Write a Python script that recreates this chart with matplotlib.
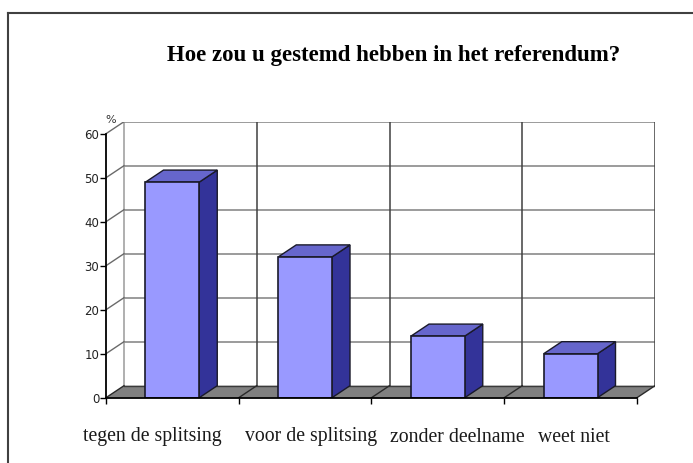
import matplotlib
matplotlib.use("Agg")
import matplotlib.pyplot as plt
from matplotlib.patches import Polygon
from matplotlib.lines import Line2D
from matplotlib.transforms import blended_transform_factory, ScaledTranslation

# ---- data ----
categories = ['tegen de splitsing', 'voor de splitsing', 'zonder deelname', 'weet niet']
values = [49, 32, 14, 10]
yticks = [0, 10, 20, 30, 40, 50, 60]
title = 'Hoe zou u gestemd hebben in het referendum?'
unit_label = '%'

# ---- style ----
W, H = 693, 463
DPI = 100
DX = 0.1356      # depth offset in category units
DY = 2.73        # depth offset in value units
BAR_W = 0.405
FRONT = '#9999ff'
TOP = '#6666cc'
SIDE = '#333399'
label_offsets_px = [-20, 6, 19, 3]

fig = plt.figure(figsize=(W / DPI, H / DPI), dpi=DPI)
ax = fig.add_axes([106 / W, 1 - 397.7 / H, (655 - 106) / W, (397.7 - 121.7) / H])
n = len(categories)
ymax = yticks[-1]
ax.set_xlim(-0.5, n - 0.5 + DX)
ax.set_ylim(0, ymax + DY)

for s in ['top', 'right']:
    ax.spines[s].set_visible(False)
ax.spines['left'].set_bounds(0, ymax)
ax.spines['bottom'].set_bounds(-0.5, n - 0.5)
ax.spines['left'].set_color('black')
ax.spines['bottom'].set_color('black')
ax.spines['left'].set_linewidth(1.3)
ax.spines['bottom'].set_linewidth(1.3)
ax.spines['left'].set_zorder(6)
ax.spines['bottom'].set_zorder(6)

ax.set_yticks(yticks)
ax.set_yticklabels([str(v) for v in yticks])
ax.tick_params(axis='y', direction='out', length=4, width=1, pad=0.8,
               labelsize=8.5, labelcolor='#222222')
bounds = [i - 0.5 for i in range(n + 1)]
ax.set_xticks(bounds)
ax.set_xticklabels([''] * len(bounds))
ax.tick_params(axis='x', direction='out', length=4, width=1)

# floor
floor = Polygon([(-0.5, 0), (n - 0.5, 0), (n - 0.5 + DX, DY), (-0.5 + DX, DY)],
                closed=True, fc='#808080', ec='none', zorder=1)
ax.add_patch(floor)
ax.plot([-0.5 + DX, n - 0.5 + DX], [DY, DY], color='#3a3a3a', lw=1.0, zorder=2)
for b in bounds:
    ax.plot([b, b + DX], [0, DY], color='#2a2a2a', lw=1.0, zorder=2)

# back wall gridlines
for v in yticks[1:]:
    ax.plot([-0.5 + DX, n - 0.5 + DX], [v + DY, v + DY], color='#8a8a8a', lw=1.2, zorder=1.5)
for k, b in enumerate(bounds):
    col = '#9a9a9a' if k == 0 else '#404040'
    ax.plot([b + DX, b + DX], [DY, ymax + DY], color=col, lw=1.1, zorder=1.5)

# left wall diagonals
for v in yticks[1:]:
    ax.plot([-0.5, -0.5 + DX], [v, v + DY], color='#6a6a6a', lw=1.0, zorder=1.5)

# bars
for i, v in enumerate(values):
    x0, x1 = i - BAR_W / 2, i + BAR_W / 2
    side = Polygon([(x1, 0), (x1 + DX, DY), (x1 + DX, v + DY), (x1, v)],
                   closed=True, fc=SIDE, ec='#1a1a2a', lw=1.0, zorder=3)
    top = Polygon([(x0, v), (x1, v), (x1 + DX, v + DY), (x0 + DX, v + DY)],
                  closed=True, fc=TOP, ec='#1a1a2a', lw=1.0, zorder=3)
    front = Polygon([(x0, 0), (x1, 0), (x1, v), (x0, v)],
                    closed=True, fc=FRONT, ec='#1a1a2a', lw=1.2, zorder=4)
    for p in (side, top, front):
        ax.add_patch(p)

# category labels
for i, (c, off) in enumerate(zip(categories, label_offsets_px)):
    tr = blended_transform_factory(ax.transData, fig.transFigure) + \
        ScaledTranslation(off / DPI, 0, fig.dpi_scale_trans)
    ax.text(i, 1 - 441.5 / H, c, transform=tr, ha='center', va='baseline',
            fontfamily='Liberation Serif', fontsize=14.2, color='#1a1a1a', clip_on=False)

# unit label
ax.annotate(unit_label, xy=(-0.5, ymax), xytext=(3.6, 10), textcoords='offset points',
            ha='center', va='center', fontsize=8, color='#333333', annotation_clip=False)

# title
fig.text(394 / W, 1 - 61.5 / H, title, ha='center', va='baseline',
         fontfamily='Liberation Serif', fontweight='bold', fontsize=16.5, color='black')

# frame lines
fig.add_artist(Line2D([8 / W, 8 / W], [0, 1 - 13 / H], transform=fig.transFigure,
                      color='#404040', lw=1.5))
fig.add_artist(Line2D([8 / W, 1], [1 - 13 / H, 1 - 13 / H], transform=fig.transFigure,
                      color='#404040', lw=1.5))

fig.savefig('out.png', dpi=DPI)
